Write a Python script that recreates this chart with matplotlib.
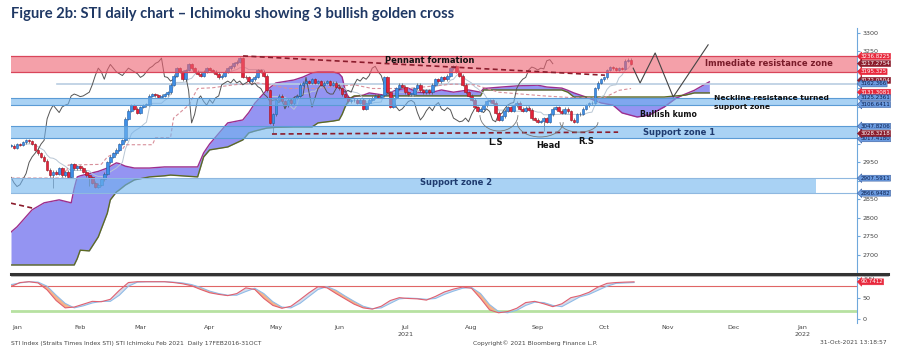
import numpy as np
import pandas as pd
import matplotlib

matplotlib.use("Agg")
import matplotlib.pyplot as plt
from matplotlib.patches import Arc
from matplotlib.lines import Line2D

# ---- price data: daily closes, trading-day index starting at -2 (30 Dec 2020)
first_idx = -2
closes = [
    2995, 2990, 3000, 2998, 3005, 3010, 3008, 3000, 2985, 2975,
    2965, 2955, 2930, 2915, 2925, 2920, 2935, 2915, 2925, 2912,
    2945, 2935, 2940, 2935, 2925, 2915, 2910, 2895, 2885, 2890,
    2905, 2920, 2950, 2965, 2975, 2985, 3000, 3010, 3068, 3090,
    3105, 3095, 3085, 3100, 3105, 3108, 3130, 3135, 3132, 3128,
    3130, 3135, 3140, 3160, 3185, 3205, 3195, 3175, 3200, 3215,
    3205, 3195, 3190, 3185, 3195, 3205, 3200, 3195, 3190, 3180,
    3185, 3195, 3205, 3210, 3218, 3222, 3232, 3182, 3180, 3170,
    3175, 3182, 3200, 3195, 3185, 3145, 3057, 3080, 3120, 3130,
    3115, 3105, 3120, 3110, 3125, 3130, 3160, 3165, 3170, 3165,
    3175, 3165, 3170, 3160, 3165, 3170, 3160, 3165, 3155, 3150,
    3135, 3128, 3115, 3118, 3120, 3112, 3120, 3095, 3110, 3120,
    3125, 3130, 3128, 3132, 3180, 3140, 3100, 3125, 3150, 3160,
    3155, 3140, 3135, 3135, 3150, 3160, 3145, 3140, 3145, 3140,
    3160, 3175, 3170, 3180, 3175, 3185, 3205, 3210, 3195, 3185,
    3160, 3140, 3130, 3120, 3100, 3090, 3095, 3105, 3115, 3118,
    3112, 3085, 3065, 3075, 3090, 3100, 3090, 3105, 3112, 3095,
    3090, 3098, 3092, 3070, 3065, 3060, 3062, 3070, 3060, 3080,
    3095, 3100, 3090, 3085, 3095, 3088, 3065, 3060, 3080, 3082,
    3095, 3105, 3110, 3112, 3150, 3165, 3175, 3180, 3200, 3208,
    3205, 3200, 3205, 3203, 3225, 3228, 3217,
]
long_lows = {12: 2880, 24: 2886, 85: 3030, 175: 3036}

# ---- Ichimoku cloud (index, span A, span B)
cloud_idx = [-2, 0, 5, 9, 14, 18, 19, 20, 21, 24, 27, 30, 31, 33, 34, 36, 39,
             44, 49, 51, 60, 62, 64, 70, 75, 77, 79, 83, 86, 92, 95, 98, 100,
             105, 107, 108, 109, 110, 111, 112, 115, 117, 122, 126, 130, 133,
             137, 141, 145, 150, 154, 155, 161, 166, 173, 176, 181, 183, 185,
             189, 194, 198, 201, 206, 210, 215, 219, 222, 225, 228, 230]
span_a = [2762, 2776, 2822, 2841, 2849, 2841, 2880, 2911, 2914, 2920, 2926,
          2935, 2940, 2949, 2947, 2940, 2935, 2935, 2938, 2938, 2938, 2976,
          3000, 3057, 3065, 3085, 3110, 3146, 3165, 3173, 3181, 3192, 3195,
          3195, 3190, 3181, 3146, 3127, 3124, 3128, 3132, 3138, 3132, 3146,
          3151, 3140, 3138, 3146, 3140, 3146, 3140, 3150, 3154, 3157, 3159,
          3154, 3151, 3145, 3138, 3127, 3111, 3105, 3084, 3073, 3078, 3100,
          3124, 3135, 3145, 3159, 3168]
span_b = [2673, 2673, 2673, 2673, 2673, 2673, 2673, 2690, 2713, 2711, 2749,
          2813, 2849, 2870, 2876, 2889, 2903, 2911, 2914, 2916, 2911, 2965,
          2984, 2992, 3011, 3030, 3035, 3043, 3045, 3046, 3046, 3046, 3057,
          3062, 3065, 3080, 3100, 3115, 3125, 3130, 3130, 3130, 3130, 3130,
          3130, 3130, 3130, 3130, 3130, 3130, 3130, 3146, 3146, 3146, 3146,
          3146, 3146, 3140, 3127, 3127, 3127, 3127, 3127, 3127, 3127, 3127,
          3130, 3132, 3138, 3138, 3138]

kijun_idx = [-2, 16, 17, 28, 30, 35, 36, 45, 46, 51, 52, 57, 60, 65, 72, 80,
             84, 90, 100, 112, 118, 130, 145, 152, 160, 175, 185, 195, 200, 204]
kijun = [2908, 2908, 2943, 2945, 2965, 2985, 2998, 2998, 3017, 3017, 3070,
         3105, 3150, 3152, 3160, 3165, 3160, 3150, 3150, 3160, 3150, 3150,
         3162, 3160, 3140, 3130, 3125, 3125, 3145, 3150]

# ---- stochastic oscillator, sampled every 3 trading days
osc_idx = list(range(-2, 206, 3))
osc_k = [79, 89, 91, 88, 71, 45, 27, 29, 36, 43, 42, 48, 70, 89, 91, 91, 91,
         91, 89, 86, 81, 72, 64, 60, 57, 62, 76, 72, 50, 33, 26, 31, 47, 64,
         79, 76, 62, 49, 36, 27, 24, 31, 45, 52, 50, 49, 46, 55, 66, 73, 78,
         75, 50, 22, 15, 18, 26, 40, 43, 37, 30, 37, 52, 57, 65, 78, 87, 89,
         90, 90.7]
osc_d = [84, 88, 91, 90, 80, 58, 38, 27, 32, 39, 43, 43, 58, 80, 90, 91, 91,
         91, 90, 88, 84, 77, 68, 62, 58, 58, 67, 75, 62, 42, 29, 27, 38, 55,
         72, 79, 70, 56, 43, 31, 25, 27, 38, 49, 51, 50, 48, 50, 60, 68, 75,
         77, 62, 35, 18, 15, 21, 33, 41, 40, 33, 30, 42, 54, 60, 70, 80, 87,
         88, 89]

# ---- zones and drawn annotations
resist_zone = (3195.325, 3236.8225)
neck_zone = (3106.6411, 3125.2361)
support1 = (3017.4, 3047.8206)
support2 = (2866.9482, 2907.5911)
support2_end = 265.4
level_line = 3162.366
pennant = ([75.1, 195.3], [3238, 3186])
support_dash = ([84.7, 199.7], [3027, 3032])
left_dash = ([-2, 5], [2840, 2827])
projection = ([204.7, 207, 212, 218, 229.6], [3205, 3165, 3246, 3127, 3268])
shoulders = [(160.1, 3078, 12.6, 86), (173.8, 3059, 15.3, 80), (186.7, 3059, 12.6, 54)]

tags = [
    (3172.0, "3172.0504", "#8b1c2c"), (3140.0, "3131.3081", "#e8283c"),
    (3014.0, "3017.4180", "#6b9be0"),
    (3236.8225, "3236.8225", "#e8283c"), (3217.2754, "3217.2754", "#8b1c2c"),
    (3195.325, "3195.325", "#e8283c"), (3162.366, "3162.366", "#6b9be0"),
    (3125.2361, "3125.2361", "#6b9be0"), (3106.6411, "3106.6411", "#6b9be0"),
    (3047.8206, "3047.8206", "#6b9be0"), (3028.3218, "3028.3218", "#8b1c2c"),
    (2907.5911, "2907.5911", "#6b9be0"), (2866.9482, "2866.9482", "#6b9be0"),
]
price_ticks = list(range(2700, 3301, 50))
hidden_ticks = {2900, 3000, 3050, 3100, 3150, 3200}

W, H = 909, 361
fig = plt.figure(figsize=(W / 100, H / 100), dpi=100)
ax = fig.add_axes([11 / W, (H - 272) / H, 846 / W, 244 / H])
ax2 = fig.add_axes([11 / W, (H - 323) / H, 846 / W, 47 / H])
xlim = (-2, 279.06)

closes = np.array(closes, dtype=float)
idx = np.arange(len(closes)) + first_idx
opens = np.r_[closes[0], closes[:-1]]
lo_body = np.minimum(opens, closes)
hi_body = np.maximum(opens, closes)
lows = lo_body - 4
highs = hi_body + 4
for k, v in long_lows.items():
    lows[k - first_idx] = v

# cloud
ax.fill_between(cloud_idx, span_a, span_b, color="#9494f2", lw=0, zorder=1)
ax.plot(cloud_idx, span_a, color="#9c2e8e", lw=1.0, zorder=2)
ax.plot(cloud_idx, span_b, color="#5d6b22", lw=1.0, zorder=2)

# ichimoku lines
s = pd.Series(closes)
tenkan = (s.rolling(9, min_periods=1).max() + s.rolling(9, min_periods=1).min()) / 2
ax.plot(idx, tenkan, color="#b8c6d4", lw=0.7, zorder=3)
ax.plot(kijun_idx, kijun, color="#d88f9a", lw=0.8, ls=(0, (3, 2)), zorder=3)
ax.plot(idx[26:] - 26, closes[26:], color="#555555", lw=0.7, zorder=3)

# candles
up = closes >= opens
ax.vlines(idx, lows, highs, color="#555555", lw=0.5, zorder=4)
ax.bar(idx, np.maximum(hi_body - lo_body, 1.5), bottom=lo_body, width=0.9,
       color=np.where(up, "#3f8fe6", "#e3223a"),
       edgecolor=np.where(up, "#1f5fa8", "#a0101e"), lw=0.4, zorder=5)

# zones on top (translucent)
ax.axhspan(*resist_zone, color="#ee6171", alpha=0.6, lw=0, zorder=6)
for v in resist_zone:
    ax.axhline(v, color="#d9455a", lw=0.9, zorder=6)
for z in (neck_zone, support1):
    ax.axhspan(*z, color="#71b4ee", alpha=0.6, lw=0, zorder=6)
    for v in z:
        ax.axhline(v, color="#5b9bd5", lw=0.8, zorder=6)
ax.fill_between([xlim[0], support2_end], *support2, color="#71b4ee", alpha=0.6,
                lw=0, zorder=6)
for v in support2:
    ax.axhline(v, color="#8fb8e0", lw=0.8, zorder=6)
ax.axhline(level_line, xmin=(57 - 11) / 846, color="#b9cde2", lw=1.2, zorder=2)

# trend lines and projection
dash = dict(color="#8b1c2c", lw=1.2, ls=(0, (3, 2)), zorder=7)
ax.plot(*pennant, **dash)
ax.plot(*support_dash, **dash)
ax.plot(*left_dash, **dash)
ax.plot(*projection, color="#444444", lw=0.8, zorder=7)
for cx, cy, w, h in shoulders:
    ax.add_patch(Arc((cx, cy), w, h, theta1=180, theta2=360, color="#777777",
                     lw=0.6, zorder=7))

# annotations
bold = dict(fontsize=6, weight="bold", family="DejaVu Sans", zorder=8)
ax.text(137.2, 3227, "Pennant formation", ha="center", va="center", color="#111111", **bold)
ax.text(228.6, 3218, "Immediate resistance zone", ha="left", va="center",
        color="#7a1c2a", **bold)
ax.text(231.6, 3124, "Neckline resistance turned", ha="left", va="center",
        color="#111111", fontsize=5.4, weight="bold", zorder=8)
ax.text(231.6, 3101, "support zone", ha="left", va="center", color="#111111",
        fontsize=5.4, weight="bold", zorder=8)
ax.text(207, 3081, "Bullish kumo", ha="left", va="center", color="#111111",
        fontsize=5.6, weight="bold", zorder=8)
ax.text(208, 3032, "Support zone 1", ha="left", va="center", color="#1f3b6f", **bold)
ax.text(133.9, 2895, "Support zone 2", ha="left", va="center", color="#1f3b6f", **bold)
ax.text(158.8, 3003, "L.S", ha="center", va="center", color="#111111", **bold)
ax.text(176.4, 2997, "Head", ha="center", va="center", color="#111111", **bold)
ax.text(189.0, 3008, "R.S", ha="center", va="center", color="#111111", **bold)

ax.set_xlim(*xlim)
ax.set_ylim(2654, 3313.5)
ax.set_xticks([])
ax.set_yticks(price_ticks)
ax.set_yticklabels(["" if t in hidden_ticks else str(t) for t in price_ticks])
ax.yaxis.tick_right()
for a in (ax, ax2):
    for side in ("left", "top", "bottom"):
        a.spines[side].set_visible(False)
    a.spines["right"].set_color("#6fa8dc")
    a.tick_params(axis="y", length=2.5, width=0.8, color="#6fa8dc",
                  labelsize=4.6, labelcolor="#444444", pad=1.5)
    a.set_facecolor("none")

for v, lab, c in tags:
    txt = "#0b1f4d" if c == "#6b9be0" else "white"
    ax.text(1.004, v, lab, transform=ax.get_yaxis_transform(), ha="left",
            va="center", fontsize=4.0, color=txt, zorder=10, clip_on=False,
            bbox=dict(boxstyle="larrow,pad=0.08", fc=c,
                      ec="#3a5fa0" if c == "#6b9be0" else c, lw=0.4))

# oscillator
ax2.axhline(80, color="#e06666", lw=0.8)
ax2.axhline(20, color="#b7e1a1", lw=2)
k = np.array(osc_k, float)
d = np.array(osc_d, float)
ax2.fill_between(osc_idx, k, d, where=k < d, interpolate=True, color="#f6b38a", lw=0)
ax2.fill_between(osc_idx, k, d, where=k >= d, interpolate=True, color="#d8dcea", lw=0)
ax2.plot(osc_idx, d, color="#8fbce8", lw=0.8)
ax2.plot(osc_idx, k, color="#e06070", lw=0.8)
ax2.set_xlim(*xlim)
ax2.set_ylim(-10, 105)
ax2.set_yticks([0, 50, 100])
ax2.yaxis.tick_right()
ax2.text(1.004, osc_k[-1], "90.7412", transform=ax2.get_yaxis_transform(),
         ha="left", va="center", fontsize=4.0, color="white", clip_on=False,
         bbox=dict(boxstyle="larrow,pad=0.08", fc="#e8283c", ec="#e8283c", lw=0.4))

months = pd.date_range("2021-01-01", "2022-01-01", freq="MS")
mpos = [np.busday_count("2021-01-01", m.date()) for m in months]
ax2.set_xticks(mpos)
ax2.set_xticklabels([m.strftime("%b") for m in months])
ax2.tick_params(axis="x", length=0, labelsize=4.6, labelcolor="#444444", pad=1.5)
for j in (6, 12):
    ax2.text(mpos[j], -0.2, months[j].strftime("%Y"), transform=ax2.get_xaxis_transform(),
             ha="center", va="top", fontsize=4.6, color="#444444")

# separator between panels
fig.add_artist(Line2D([11 / W, 888 / W], [(H - 273.5) / H] * 2, color="#333333", lw=2.2))
fig.add_artist(Line2D([11 / W, 888 / W], [(H - 275.5) / H] * 2, color="#aaaaaa", lw=0.6))

fig.text(11 / W, 1 - 14 / H, "Figure 2b: STI daily chart \u2013 Ichimoku showing 3 bullish golden cross",
         fontsize=10.6, weight="bold", color="#1f3864", family="Lato", va="center")
foot = dict(fontsize=4.3, color="#444444", va="center")
fig.text(11 / W, 1 - 344 / H,
         "STI Index (Straits Times Index STI) STI Ichimoku Feb 2021  Daily 17FEB2016-31OCT", **foot)
fig.text(535 / W, 1 - 343 / H, "Copyright\u00a9 2021 Bloomberg Finance L.P.", ha="center", **foot)
fig.text(887 / W, 1 - 343 / H, "31-Oct-2021 13:18:57", ha="right", **foot)

fig.savefig("out.png", dpi=100)
